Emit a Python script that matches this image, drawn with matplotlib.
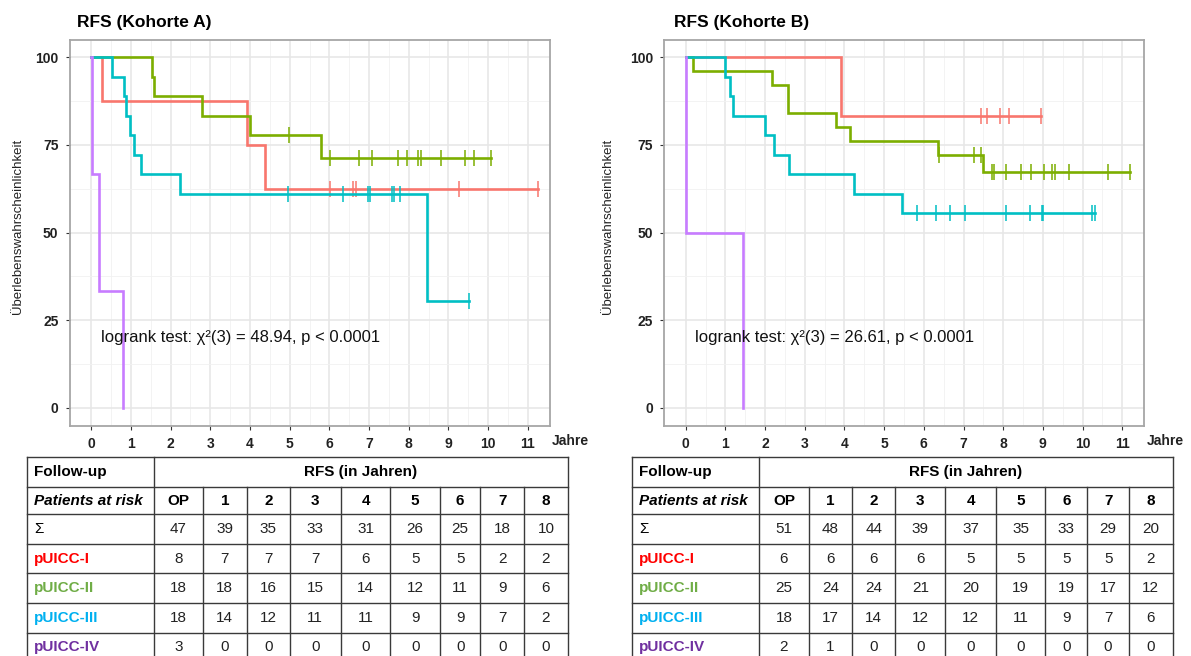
import matplotlib
matplotlib.use("Agg")
import matplotlib.pyplot as plt
import numpy as np

plt.rcParams['font.family'] = ['Liberation Sans', 'DejaVu Sans']

# ==============================
# Daten: Kaplan-Meier Stufen (Jahre / %)
# ==============================
# Kohorte A
a1_t = [0, 0.28, 3.92, 4.38, 11.26]
a1_s = [100, 87.5, 75.0, 62.5, 62.5]
a1_c = [6.02, 6.60, 6.66, 9.27, 11.26]

a2_t = [0, 1.53, 1.59, 2.78, 3.99, 5.78, 10.07]
a2_s = [100, 94.4, 88.9, 83.3, 77.8, 71.3, 71.3]
a2_c = [4.98, 6.02, 6.76, 7.07, 7.73, 7.97, 8.24, 8.32, 8.81, 9.42, 9.65, 10.07]

a3_t = [0, 0.53, 0.82, 0.88, 0.98, 1.07, 1.24, 2.24, 8.47, 9.51]
a3_s = [100, 94.4, 88.9, 83.3, 77.8, 72.2, 66.7, 61.1, 30.6, 30.6]
a3_c = [4.96, 6.35, 6.98, 7.03, 7.58, 7.63, 7.77, 9.51]

a4_t = [0, 0.01, 0.19, 0.79]
a4_s = [100, 66.7, 33.3, 0]
a4_c = []

# Kohorte B
b1_t = [0, 3.91, 8.95]
b1_s = [100, 83.3, 83.3]
b1_c = [7.45, 7.59, 7.91, 8.15, 8.95]

b2_t = [0, 0.17, 2.18, 2.57, 3.79, 4.13, 6.36, 7.48, 11.2]
b2_s = [100, 96.0, 92.0, 84.0, 80.0, 76.0, 72.0, 67.2, 67.2]
b2_c = [6.39, 7.26, 7.45, 7.72, 7.77, 8.06, 8.46, 8.69, 9.02, 9.23, 9.30, 9.66, 10.63, 11.2]

b3_t = [0, 0.98, 1.11, 1.19, 1.99, 2.23, 2.60, 4.25, 5.45, 10.31]
b3_s = [100, 94.4, 88.9, 83.3, 77.8, 72.2, 66.7, 61.1, 55.6, 55.6]
b3_c = [5.84, 6.31, 6.67, 7.03, 8.06, 8.68, 8.98, 9.01, 10.24, 10.31]

b4_t = [0, 0.01, 1.44]
b4_s = [100, 50.0, 0]
b4_c = []

logrank_a = "logrank test: χ²(3) = 48.94, p < 0.0001"
logrank_b = "logrank test: χ²(3) = 26.61, p < 0.0001"

# Patients at risk
risk_cols = ['OP', '1', '2', '3', '4', '5', '6', '7', '8']
row_labels = ['pUICC-I', 'pUICC-II', 'pUICC-III', 'pUICC-IV']
a_sum = [47, 39, 35, 33, 31, 26, 25, 18, 10]
a_n1 = [8, 7, 7, 7, 6, 5, 5, 2, 2]
a_n2 = [18, 18, 16, 15, 14, 12, 11, 9, 6]
a_n3 = [18, 14, 12, 11, 11, 9, 9, 7, 2]
a_n4 = [3, 0, 0, 0, 0, 0, 0, 0, 0]
b_sum = [51, 48, 44, 39, 37, 35, 33, 29, 20]
b_n1 = [6, 6, 6, 6, 5, 5, 5, 5, 2]
b_n2 = [25, 24, 24, 21, 20, 19, 19, 17, 12]
b_n3 = [18, 17, 14, 12, 12, 11, 9, 7, 6]
b_n4 = [2, 1, 0, 0, 0, 0, 0, 0, 0]

curve_colors = ['#F8766D', '#7CAE00', '#00BFC4', '#C77CFF']
label_colors = ['#FF0000', '#70AD47', '#00B0F0', '#7030A0']

# ==============================
# Figur
# ==============================
W, H = 1191, 656
fig = plt.figure(figsize=(W / 100, H / 100), dpi=100)
fig.patch.set_facecolor('white')

narrow = ['Liberation Sans Narrow', 'Liberation Sans', 'DejaVu Sans']


def km_panel(ax, curves, text, ylab_off):
    ax.set_xlim(-0.55, 11.55)
    ax.set_ylim(-5, 105)
    ax.set_xticks(range(0, 12))
    ax.set_yticks([0, 25, 50, 75, 100])
    ax.set_xticks(np.arange(0.5, 11.5, 1), minor=True)
    ax.set_yticks([12.5, 37.5, 62.5, 87.5], minor=True)
    ax.grid(True, which='major', color='#E6E6E6', lw=1.1)
    ax.grid(True, which='minor', color='#F1F1F1', lw=0.6)
    ax.set_axisbelow(True)
    for sp in ax.spines.values():
        sp.set_color('#A6A6A6')
        sp.set_linewidth(1.3)
    ax.tick_params(which='major', length=3, width=0.8, color='#333333', pad=5,
                   labelsize=10, labelcolor='#222222')
    ax.tick_params(which='minor', length=0)
    for lab in ax.get_xticklabels() + ax.get_yticklabels():
        lab.set_family(narrow)
        lab.set_fontweight('bold')
    for (t, s, c), col in zip(curves, curve_colors):
        ax.step(t, s, where='post', color=col, lw=1.9, solid_joinstyle='miter')
        if c:
            idx = np.searchsorted(t, c, side='right') - 1
            ax.plot(c, np.array(s)[idx], ls='none', marker='|', ms=11, mew=1.1, color=col)
    ax.text(0.24, 20, text, fontsize=12, va='center', ha='left', color='#111111')
    ax.text(-ylab_off / 480, 0.515, 'Überlebenswahrscheinlichkeit', transform=ax.transAxes,
            rotation=90, fontsize=9.5, family=narrow, color='#222222',
            ha='center', va='center')


axA = fig.add_axes([69.5 / W, 1 - 425.5 / H, 480 / W, 386 / H])
km_panel(axA, [(a1_t, a1_s, a1_c), (a2_t, a2_s, a2_c), (a3_t, a3_s, a3_c), (a4_t, a4_s, a4_c)],
         logrank_a, 51.5)
axB = fig.add_axes([664 / W, 1 - 425.5 / H, 480 / W, 386 / H])
km_panel(axB, [(b1_t, b1_s, b1_c), (b2_t, b2_s, b2_c), (b3_t, b3_s, b3_c), (b4_t, b4_s, b4_c)],
         logrank_b, 56)

fig.text(77 / W, 1 - 22 / H, 'RFS (Kohorte A)', fontsize=12.5, fontweight='bold', va='center')
fig.text(674 / W, 1 - 22 / H, 'RFS (Kohorte B)', fontsize=12.5, fontweight='bold', va='center')
fig.text(552 / W, 1 - 441 / H, 'Jahre', fontsize=10, fontweight='bold', family=narrow,
         va='center', color='#222222')
fig.text(1147 / W, 1 - 441 / H, 'Jahre', fontsize=10, fontweight='bold', family=narrow,
         va='center', color='#222222')

# ==============================
# Tabellen (Patients at risk)
# ==============================
tab = fig.add_axes([0, 0, 1, 1])
tab.set_xlim(0, W)
tab.set_ylim(H, 0)
tab.axis('off')
tab.patch.set_alpha(0)

row_edges = [457.3, 487.3, 514.3, 544.3, 573.3, 603.3, 632.7, 662]
cols_a = [26.8, 154.2, 202.8, 246.8, 290, 340.6, 390.4, 440, 480.3, 524.3, 567.5]
cols_b = [631.9, 759.2, 808.6, 852.3, 895.3, 945.4, 996, 1045.4, 1087.2, 1129, 1172.7]


def risk_table(cols, s, n1, n2, n3, n4):
    lc = '#3A3A3A'
    for y in row_edges:
        tab.plot([cols[0], cols[-1]], [y, y], color=lc, lw=1.0)
    for i, x in enumerate(cols):
        y0 = row_edges[0] if i in (0, 1, len(cols) - 1) else row_edges[1]
        tab.plot([x, x], [y0, row_edges[-1]], color=lc, lw=1.0)
    mids = [(row_edges[i] + row_edges[i + 1]) / 2 for i in range(len(row_edges) - 1)]
    centers = [(cols[i] + cols[i + 1]) / 2 for i in range(1, len(cols) - 1)]
    lx = cols[0] + 7
    tab.text(lx, mids[0], 'Follow-up', fontsize=11, fontweight='bold', va='center')
    tab.text((cols[1] + cols[-1]) / 2, mids[0], 'RFS (in Jahren)', fontsize=11,
             fontweight='bold', ha='center', va='center')
    tab.text(lx, mids[1], 'Patients at risk', fontsize=11, fontweight='bold',
             style='italic', va='center')
    for x, lab in zip(centers, risk_cols):
        tab.text(x, mids[1], lab, fontsize=11, fontweight='bold', ha='center', va='center')
    tab.text(lx, mids[2], 'Σ', fontsize=11, va='center')
    rows = [s, n1, n2, n3, n4]
    for r, vals in enumerate(rows):
        for x, v in zip(centers, vals):
            tab.text(x, mids[r + 2], str(v), fontsize=11, ha='center', va='center',
                     color='#222222')
    for r, (lab, col) in enumerate(zip(row_labels, label_colors)):
        tab.text(lx, mids[r + 3], lab, fontsize=11, fontweight='bold', color=col, va='center')


risk_table(cols_a, a_sum, a_n1, a_n2, a_n3, a_n4)
risk_table(cols_b, b_sum, b_n1, b_n2, b_n3, b_n4)

fig.savefig('out.png', dpi=100)
